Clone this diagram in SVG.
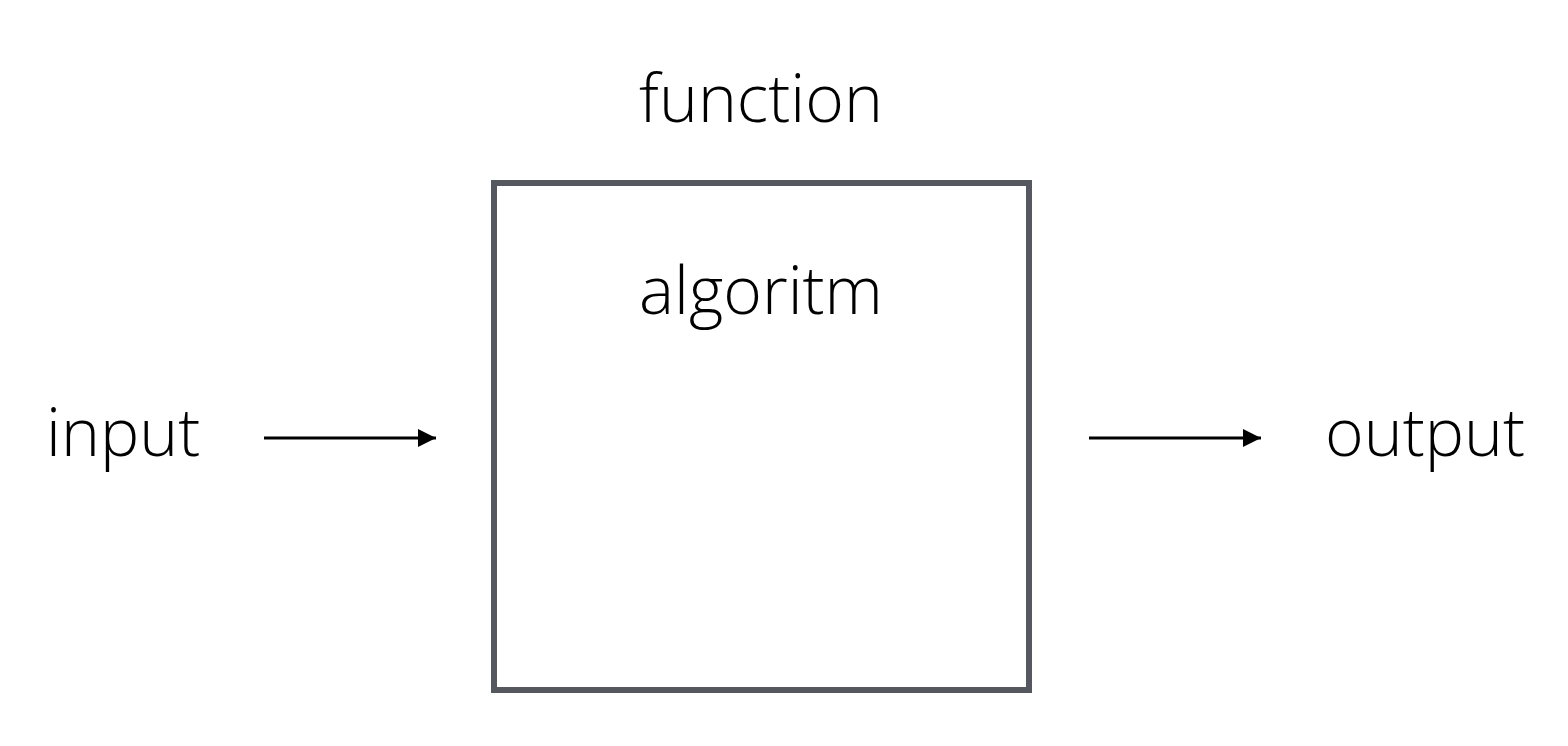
<svg xmlns="http://www.w3.org/2000/svg" width="1568" height="746" viewBox="0 0 1568 746">
<style>
.t{font-family:"Open Sans","Noto Sans","Liberation Sans",sans-serif;font-weight:300;font-size:66px;fill:#000}
.c{stroke:#000;stroke-width:3;fill:none}
</style>
<defs>
<marker id="ah" markerUnits="userSpaceOnUse" markerWidth="20" markerHeight="20" refX="18" refY="9" orient="auto">
<path d="M0,0 L18,9 L0,18 Z" fill="#000"/>
</marker>
</defs>
<rect width="1568" height="746" fill="#fff"/>
<g id="function">
<rect x="494" y="183" width="535" height="507" fill="#fff" stroke="#55585e" stroke-width="6"/>
<text class="t" x="761" y="122" text-anchor="middle">function</text>
<text class="t" x="761" y="314" text-anchor="middle">algoritm</text>
</g>
<g id="input"><text class="t" x="46" y="456">input</text></g>
<g id="output"><text class="t" x="1325" y="456">output</text></g>
<g id="connectors">
<line class="c" x1="264" y1="438" x2="436" y2="438" marker-end="url(#ah)"/>
<line class="c" x1="1089" y1="438" x2="1261" y2="438" marker-end="url(#ah)"/>
</g>
</svg>
